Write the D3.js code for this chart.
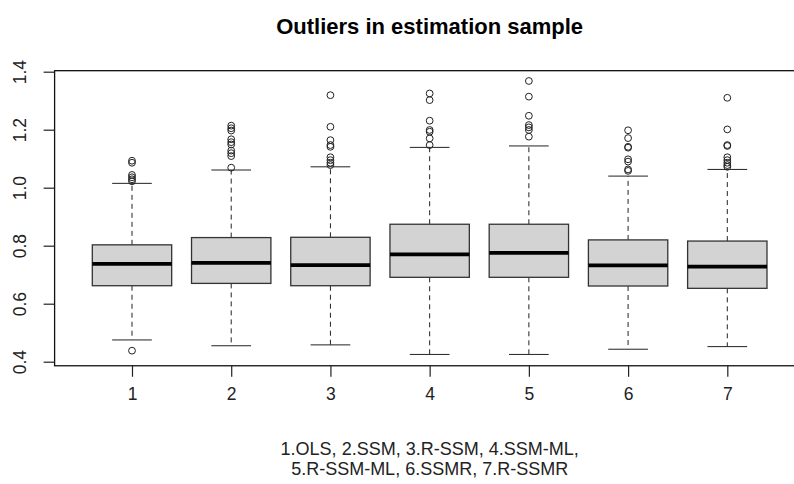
<!DOCTYPE html>
<html>
<head>
<meta charset="utf-8">
<script src="https://cdn.jsdelivr.net/npm/d3@7"></script>
<style>
  body { margin: 0; background: #fff; }
  text { font-family: "Liberation Sans", Arial, sans-serif; }
</style>
</head>
<body>
<script>
// boxplot stats
const groups = [1, 2, 3, 4, 5, 6, 7];
const whiskerLow = [0.475, 0.455, 0.458, 0.425, 0.425, 0.443, 0.452];
const q1 = [0.662, 0.670, 0.662, 0.691, 0.691, 0.661, 0.653];
const medians = [0.737, 0.741, 0.733, 0.770, 0.775, 0.732, 0.728];
const q3 = [0.803, 0.828, 0.829, 0.874, 0.874, 0.820, 0.816];
const whiskerHigh = [1.015, 1.061, 1.072, 1.139, 1.144, 1.040, 1.063];
const outliers = [
  [0.438, 1.093, 1.086, 1.044, 1.036, 1.029, 1.022],
  [1.214, 1.205, 1.197, 1.167, 1.157, 1.149, 1.128, 1.119, 1.109, 1.069],
  [1.319, 1.210, 1.164, 1.147, 1.141, 1.105, 1.095, 1.086, 1.078],
  [1.325, 1.302, 1.231, 1.199, 1.193, 1.170, 1.147],
  [1.368, 1.314, 1.248, 1.216, 1.208, 1.199, 1.176],
  [1.198, 1.171, 1.141, 1.138, 1.098, 1.090, 1.063, 1.058],
  [1.310, 1.201, 1.147, 1.144, 1.105, 1.095, 1.086, 1.078, 1.072]
];
const yTicks = [0.4, 0.6, 0.8, 1.0, 1.2, 1.4];
const title = "Outliers in estimation sample";
const xlabLines = ["1.OLS, 2.SSM, 3.R-SSM, 4.SSM-ML,", "5.R-SSM-ML, 6.SSMR, 7.R-SSMR"];

const width = 794, height = 484;
const left = 54.6, right = 804.7;

const x = d3.scaleLinear().domain([0.22, 7.78]).range([left, right]);
const y = d3.scaleLinear().domain([0.4, 1.4]).range([361.7, 71.7]);
const frameTop = y(1.4035), frameBottom = y(0.386);

// R default: boxes 0.8 wide, staples half of that
const boxW = x(1.8) - x(1);
const capW = boxW / 2;

const svg = d3.select("body").append("svg")
  .attr("width", width)
  .attr("height", height);

const data = groups.map((g, i) => ({
  g, lo: whiskerLow[i], q1: q1[i], med: medians[i], q3: q3[i], hi: whiskerHigh[i], out: outliers[i]
}));

const box = svg.append("g").selectAll("g")
  .data(data)
  .join("g");

// dashed whiskers
box.append("line")
  .attr("x1", d => x(d.g)).attr("x2", d => x(d.g))
  .attr("y1", d => y(d.q3)).attr("y2", d => y(d.hi))
  .attr("stroke", "#222").attr("stroke-dasharray", "5,4");
box.append("line")
  .attr("x1", d => x(d.g)).attr("x2", d => x(d.g))
  .attr("y1", d => y(d.q1)).attr("y2", d => y(d.lo))
  .attr("stroke", "#222").attr("stroke-dasharray", "5,4");

// staples
box.selectAll("line.cap")
  .data(d => [{g: d.g, v: d.hi}, {g: d.g, v: d.lo}])
  .join("line")
    .attr("class", "cap")
    .attr("x1", d => x(d.g) - capW / 2).attr("x2", d => x(d.g) + capW / 2)
    .attr("y1", d => y(d.v)).attr("y2", d => y(d.v))
    .attr("stroke", "#222");

box.append("rect")
  .attr("x", d => x(d.g) - boxW / 2)
  .attr("width", boxW)
  .attr("y", d => y(d.q3))
  .attr("height", d => y(d.q1) - y(d.q3))
  .attr("fill", "#d3d3d3")
  .attr("stroke", "#333")
  .attr("stroke-width", 1.3);

box.append("line")
  .attr("x1", d => x(d.g) - boxW / 2).attr("x2", d => x(d.g) + boxW / 2)
  .attr("y1", d => y(d.med)).attr("y2", d => y(d.med))
  .attr("stroke", "#000").attr("stroke-width", 3.8);

box.selectAll("circle")
  .data(d => d.out.map(v => ({g: d.g, v})))
  .join("circle")
    .attr("cx", d => x(d.g))
    .attr("cy", d => y(d.v))
    .attr("r", 3.4)
    .attr("fill", "none")
    .attr("stroke", "#222")
    .attr("stroke-width", 1);

// frame
svg.append("rect")
  .attr("x", left).attr("y", frameTop)
  .attr("width", right - left).attr("height", frameBottom - frameTop)
  .attr("fill", "none").attr("stroke", "#111").attr("stroke-width", 1.3);

// y axis, labels turned like R's las = 0
const yAxis = svg.append("g")
  .attr("transform", `translate(${left},0)`)
  .call(d3.axisLeft(y).tickValues(yTicks).tickSize(11).tickFormat(d3.format(".1f")));
yAxis.select(".domain").remove();
yAxis.selectAll("line").attr("stroke", "#222").attr("stroke-width", 1.2);
yAxis.selectAll("text")
  .attr("font-size", 17.5)
  .attr("fill", "#222")
  .attr("text-anchor", "middle")
  .attr("x", -35)
  .attr("dy", "0.35em")
  .attr("transform", "rotate(-90, -35, 0)")
  .attr("font-family", "Liberation Sans, Arial, sans-serif");

// x axis
const xAxis = svg.append("g")
  .attr("transform", `translate(0,${frameBottom})`)
  .call(d3.axisBottom(x).tickValues(groups).tickSize(11).tickFormat(d3.format("d")));
xAxis.select(".domain").remove();
xAxis.selectAll("line").attr("stroke", "#222").attr("stroke-width", 1.2);
xAxis.selectAll("text")
  .attr("font-size", 17.5)
  .attr("fill", "#222")
  .attr("y", 21.5)
  .attr("font-family", "Liberation Sans, Arial, sans-serif");

const mid = (left + right) / 2;

svg.append("text")
  .attr("x", mid).attr("y", 34)
  .attr("text-anchor", "middle")
  .attr("font-size", 22)
  .attr("font-weight", "bold")
  .text(title);

svg.append("g").selectAll("text")
  .data(xlabLines)
  .join("text")
    .attr("x", mid)
    .attr("y", (d, i) => 455 + i * 19.5)
    .attr("text-anchor", "middle")
    .attr("font-size", 18)
    .attr("fill", "#222")
    .text(d => d);
</script>
</body>
</html>
